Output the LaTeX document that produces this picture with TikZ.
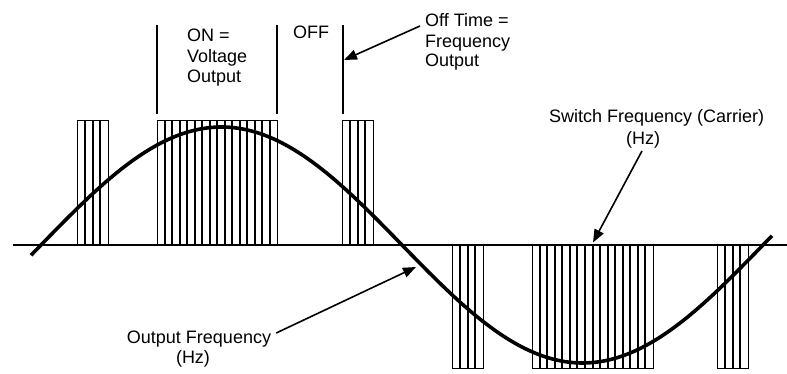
\documentclass[tikz,border=0pt]{standalone}
\usepackage{fontspec}
\setmainfont{Liberation Sans}
\usetikzlibrary{arrows.meta}
\begin{document}
\begin{tikzpicture}[x=1pt,y=-1pt,
  lbl/.style={font=\fontsize{18}{20.5}\selectfont, inner sep=0pt},
  thinedge/.style={line width=1pt},
  pulse/.style={line width=2.6pt},
  marker/.style={line width=2.2pt},
  axisline/.style={line width=2.2pt},
  wave/.style={line width=3.6pt},
  pointer/.style={line width=1.6pt, -{Triangle[length=13pt,width=10pt]}}]
\useasboundingbox (0,0) rectangle (787,374);
% pulse blocks
\foreach \xa/\xb/\n/\ya/\yb in {77/108/4/121/245, 157/277/16/121/245, 342/373/4/121/245, 452/483/4/245/368, 532/653/16/245/368, 717/748/4/245/368} {
  \draw[thinedge] (\xa+0.5,\ya) rectangle (\xb+0.5,\yb);
  \pgfmathtruncatemacro\m{\n-1}
  \pgfmathsetmacro\dx{(\xb-\xa)/\n}
  \foreach \k in {1,...,\m} {
    \pgfmathsetmacro\px{round(\xa+\k*\dx)}
    \draw[pulse] (\px,\ya) -- (\px,\yb);
  }
}
% axis
\draw[axisline] (13,245) -- (787,245);
% sine wave
\draw[wave] plot[domain=31:772, samples=160, smooth] (\x, {245-118*sin(0.498615*(\x-41))});
% top markers
\draw[marker] (157,25) -- (157,114);
\draw[marker] (277,25) -- (277,114);
\draw[marker] (343,25) -- (343,114);
% texts
\node[lbl, anchor=base west] (on1) at (187,41.7) {ON =};
\node[lbl, anchor=base west] (on2) at (187,62.5) {Voltage};
\node[lbl, anchor=base west] (on3) at (187,83) {Output};
\node[lbl, anchor=base west] (off) at (293,38.3) {OFF};
\node[lbl, anchor=base west] (ot1) at (425,27) {Off Time =};
\node[lbl, anchor=base west] (ot2) at (425,47.3) {Frequency};
\node[lbl, anchor=base west] (ot3) at (425,67) {Output};
\node[lbl, anchor=base west] (sw1) at (549,123) {Switch Frequency (Carrier)};
\node[lbl, anchor=base] (sw2) at (643,145) {(Hz)};
\node[lbl, anchor=base] (of1) at (199,343) {Output Frequency};
\node[lbl, anchor=base] (of2) at (193,363.5) {(Hz)};
% arrows
\coordinate (offtip) at (344,60);
\coordinate (swtip) at (593,242.5);
\coordinate (oftip) at (416,267);
\draw[pointer] ([shift={(-5,-1)}]ot1.base west) -- (offtip);
\draw[pointer] ([shift={(-1,2)}]sw2.south) -- (swtip);
\draw[pointer] ([shift={(5,-10)}]of1.base east) -- (oftip);
\end{tikzpicture}
\end{document}
